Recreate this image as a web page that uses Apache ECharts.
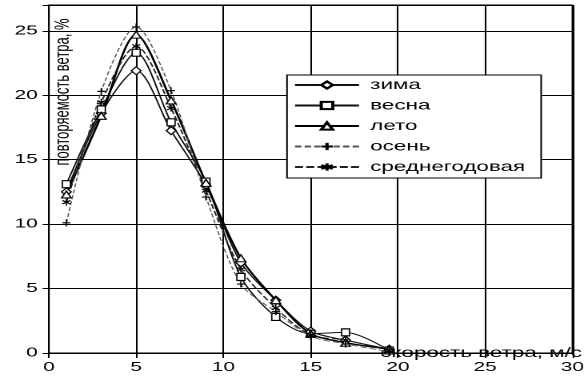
<!DOCTYPE html>
<html>
<head>
<meta charset="utf-8">
<script src="https://cdn.jsdelivr.net/npm/echarts@6/dist/echarts.min.js"></script>
<style>
  html, body { margin: 0; padding: 0; background: #fff; overflow: hidden; }
  /* the chart is laid out narrow and widened horizontally, giving the wide lettering */
  #chart { width: 367.5px; height: 385px; transform: scaleX(1.6); transform-origin: 0 0; }
</style>
</head>
<body>
<div id="chart"></div>
<script>
// wind speed, m/s
const speeds = [1, 3, 5, 7, 9, 11, 13, 15, 17, 19.5];

// wind speed frequency, %
const winter = [12.5, 18.6, 21.9, 17.25, 13.0, 7.0, 4.1, 1.7, 1.0, 0.3];
const spring = [13.1, 18.9, 23.3, 17.9, 13.3, 5.9, 2.8, 1.5, 1.6, 0.2];
const summer = [12.3, 18.4, 24.7, 19.6, 13.2, 7.35, 4.1, 1.5, 0.8, 0.3];
const autumn = [10.1, 20.3, 25.3, 20.35, 12.1, 5.35, 3.2, 1.3, 0.7, 0.1];
const annual = [11.7, 19.45, 23.8, 19.0, 12.6, 6.5, 3.5, 1.4, 1.0, 0.2];

const seriesNames = ['зима', 'весна', 'лето', 'осень', 'среднегодовая'];
const xTicks = [0, 5, 10, 15, 20, 25, 30];
const yTicks = [0, 5, 10, 15, 20, 25];

const FONT = '"Liberation Sans", Arial, sans-serif';

const plusPath = 'path://M0,5L10,5M5,0L5,10';
const starPath = 'path://M5,0L5,10M0.7,2.5L9.3,7.5M0.7,7.5L9.3,2.5';

function pairs(ys) { return speeds.map((x, i) => [x, ys[i]]); }

const styles = [
  { data: winter, symbol: 'diamond', size: [6, 8], width: 1, color: '#111', type: 'solid' },
  { data: spring, symbol: 'rect', size: [5, 7], width: 1, color: '#111', type: 'solid' },
  { data: summer, symbol: 'triangle', size: [6, 7], width: 1.4, color: '#000', type: 'solid' },
  { data: autumn, symbol: plusPath, size: [5, 7], width: 0.8, color: '#555', type: [4, 2] },
  { data: annual, symbol: starPath, size: [5, 7], width: 1, color: '#222', type: [5, 2] }
];

const chart = echarts.init(document.getElementById('chart'), null, { renderer: 'canvas', devicePixelRatio: 2 });

chart.setOption({
  animation: false,
  backgroundColor: '#fff',
  grid: { left: 30.6, right: 6.3, top: 5, bottom: 32, show: true, borderColor: '#000', borderWidth: 1 },
  xAxis: {
    type: 'value', min: 0, max: 30, interval: 5,
    name: 'скорость ветра, м/с', nameLocation: 'end', nameGap: 6,
    nameTextStyle: { fontFamily: FONT, fontSize: 14, color: '#000', align: 'right', verticalAlign: 'middle', padding: [0, 0, 3, 0] },
    axisLine: { lineStyle: { color: '#000', width: 1 } },
    axisTick: { show: true, length: 5, lineStyle: { color: '#000' } },
    axisLabel: { fontFamily: FONT, fontSize: 13, color: '#000', margin: 8,
      formatter: v => xTicks.includes(v) ? String(v) : '' },
    splitLine: { show: true, lineStyle: { color: '#000', width: 1 } }
  },
  yAxis: {
    type: 'value', min: 0, max: 27, interval: 5,
    axisLine: { show: true, lineStyle: { color: '#000', width: 1 } },
    axisTick: { show: true, length: 4, lineStyle: { color: '#000' } },
    axisLabel: { fontFamily: FONT, fontSize: 13, color: '#000', margin: 7,
      formatter: v => yTicks.includes(v) ? String(v) : '' },
    splitLine: { show: true, lineStyle: { color: '#000', width: 1 } }
  },
  legend: {
    orient: 'vertical', left: 179.4, top: 75,
    backgroundColor: '#fff', borderColor: '#000', borderWidth: 1,
    padding: [3, 10, 4, 4], itemGap: 6.5,
    itemWidth: 40, itemHeight: 9,
    textStyle: { fontFamily: FONT, fontSize: 14, color: '#000', lineHeight: 14, padding: [0, 0, 0, 2] },
    data: seriesNames
  },
  graphic: [{
    type: 'text', x: 39.4, y: 92, rotation: Math.PI / 2, z: 10,
    style: { text: 'повторяемость ветра, %', font: '13px ' + FONT, fill: '#000',
      align: 'center', verticalAlign: 'middle' }
  }],
  series: styles.map((s, i) => ({
    name: seriesNames[i],
    type: 'line',
    data: pairs(s.data),
    smooth: 0.3,
    symbol: s.symbol,
    symbolSize: s.size,
    showAllSymbol: true,
    lineStyle: { color: s.color, width: s.width, type: s.type },
    itemStyle: { color: '#fff', borderColor: '#000', borderWidth: 1 },
    emphasis: { disabled: true }
  }))
});
</script>
</body>
</html>
